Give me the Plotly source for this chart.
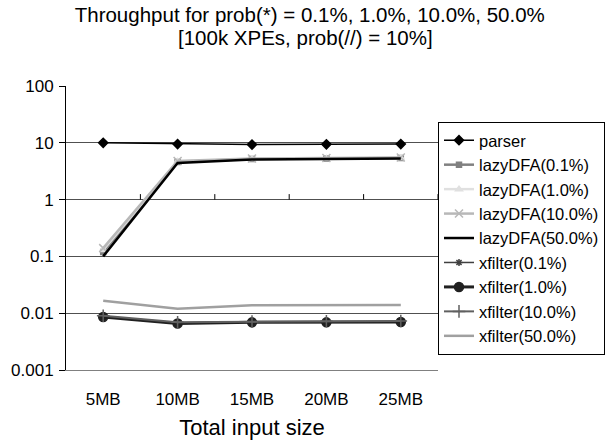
import plotly.graph_objects as go

sizes = ["5MB", "10MB", "15MB", "20MB", "25MB"]

parser = [10.0, 9.5, 9.3, 9.4, 9.5]
lazy_01 = [0.12, 4.6, 5.2, 5.3, 5.4]
lazy_1 = [0.13, 4.7, 5.2, 5.3, 5.4]
lazy_10 = [0.14, 4.8, 5.3, 5.4, 5.5]
lazy_50 = [0.10, 4.4, 5.1, 5.2, 5.3]
xf_01 = [0.0088, 0.0067, 0.0070, 0.0070, 0.0071]
xf_1 = [0.0086, 0.0066, 0.0069, 0.0069, 0.0070]
xf_10 = [0.0090, 0.0069, 0.0071, 0.0072, 0.0073]
xf_50 = [0.0165, 0.0120, 0.0138, 0.0139, 0.0140]

ytick_vals = [0.001, 0.01, 0.1, 1, 10, 100]
ytick_text = ["0.001", "0.01", "0.1", "1", "10", "100"]

title_line1 = "Throughput for prob(*) = 0.1%, 1.0%, 10.0%, 50.0%"
title_line2 = "[100k XPEs, prob(//) = 10%]"

series = [
    ("parser", parser, "#000000", 1.5, "diamond", 7),
    ("lazyDFA(0.1%)", lazy_01, "#808080", 2.5, "square", 5),
    ("lazyDFA(1.0%)", lazy_1, "#e0e0e0", 2.5, "triangle-up", 6),
    ("lazyDFA(10.0%)", lazy_10, "#b8b8b8", 2.5, "x-thin-open", 8),
    ("lazyDFA(50.0%)", lazy_50, "#000000", 2.5, None, 0),
    ("xfilter(0.1%)", xf_01, "#404040", 1.5, "asterisk-open", 6),
    ("xfilter(1.0%)", xf_1, "#202020", 3, "circle", 9),
    ("xfilter(10.0%)", xf_10, "#606060", 2, "cross-thin-open", 9),
    ("xfilter(50.0%)", xf_50, "#a0a0a0", 2.5, None, 0),
]

fig = go.Figure()
for name, vals, color, w, sym, ms in series:
    kw = dict(mode="lines")
    if sym:
        kw = dict(mode="lines+markers",
                  marker=dict(symbol=sym, size=ms, color=color,
                              line=dict(color=color, width=1.5)))
    fig.add_trace(go.Scatter(x=sizes, y=vals, name=name,
                             line=dict(color=color, width=w), **kw))

# x-axis crossing at 1 with category boundary tick marks
shapes = []
for i in range(len(sizes)):
    shapes.append(dict(type="line", xref="x", yref="y", x0=i + 0.5, x1=i + 0.5,
                       y0=1, y1=1.25, line=dict(color="#000000", width=1)))

fig.update_layout(
    width=605, height=445,
    margin=dict(l=66, r=167, t=86, b=75, autoexpand=False),
    paper_bgcolor="white", plot_bgcolor="white",
    font=dict(family="Liberation Sans, Arial, sans-serif", size=17, color="black"),
    title=dict(text=title_line1,
               x=0.512, xanchor="center", xref="container", yref="container",
               y=1 - 15 / 445, yanchor="middle",
               font=dict(size=20.5)),
    annotations=[dict(text=title_line2, xref="paper", yref="paper",
                      x=(305 - 66) / 372, y=1 + (86 - 37) / 284,
                      xanchor="center", yanchor="middle", showarrow=False,
                      font=dict(size=20.5))],
    xaxis=dict(title=dict(text="Total input size", font=dict(size=22), standoff=11),
               type="category", range=[-0.5, len(sizes) - 0.5],
               showline=True, linecolor="#808080", linewidth=1,
               showgrid=False, ticks="", tickfont=dict(size=17),
               ticklabelstandoff=14),
    yaxis=dict(type="log", range=[-3, 2], tickvals=ytick_vals, ticktext=ytick_text,
               showgrid=True, gridcolor="#505050", gridwidth=1,
               showline=True, linecolor="#000000", linewidth=1,
               ticks="outside", ticklen=6, tickcolor="#000000",
               zeroline=False, tickfont=dict(size=17), ticklabelstandoff=2),
    legend=dict(x=1.0, xanchor="left", y=1 - (122 - 86) / 284, yanchor="top",
                bordercolor="#000000", borderwidth=1, bgcolor="white",
                font=dict(size=16.5), itemwidth=30),
    shapes=shapes,
    showlegend=True,
)

fig.write_html("out.html")
